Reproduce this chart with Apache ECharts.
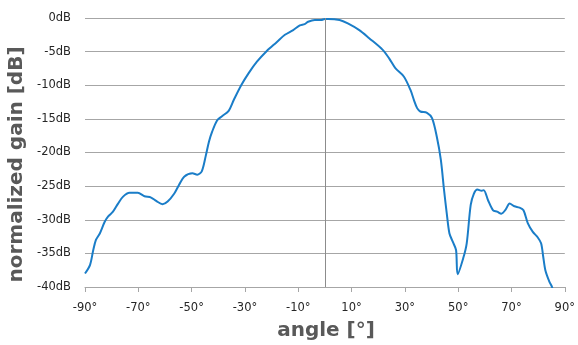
<!DOCTYPE html>
<html>
<head>
<meta charset="utf-8">
<script src="https://cdn.jsdelivr.net/npm/echarts@6/dist/echarts.min.js"></script>
<style>html,body{margin:0;padding:0;background:#fff;}#c{width:578px;height:345px;}</style>
</head>
<body>
<div id="c"></div>
<script>
const angles = [-90,-88.1,-86.9,-85.9,-84.4,-82.6,-81.3,-79.5,-77.6,-75.8,-73.3,-70.2,-67.7,-65.2,-63.3,-60.9,-59.0,-56.5,-54.7,-52.8,-49.7,-47.9,-46.2,-44.7,-43.5,-42.3,-40.4,-38.6,-36.1,-34.2,-31.4,-28.6,-25.5,-21.8,-18.1,-15.0,-11.9,-9.4,-7.6,-6.3,-3.8,-1.4,0,1.1,5.5,8.6,12.9,16.6,21.6,24.1,26.5,29.6,32.1,33.4,34.6,35.8,38.3,40.2,42.0,43.5,44.7,45.7,46.7,48.0,49.2,49.8,51.9,53.2,54.7,55.9,57.2,58.8,59.6,61.2,63.1,64.6,66.2,67.8,69.3,71.1,73.0,74.5,76.1,78.0,79.8,81.1,81.9,82.7,84.2,85.2,86.5];
const gains = [-38.0,-36.7,-34.5,-33.0,-32.0,-30.3,-29.5,-28.8,-27.6,-26.6,-26.0,-26.0,-26.5,-26.7,-27.2,-27.7,-27.3,-26.1,-24.8,-23.6,-23.1,-23.3,-22.8,-20.5,-18.4,-16.9,-15.2,-14.6,-13.8,-12.2,-10.0,-8.2,-6.5,-4.9,-3.6,-2.5,-1.8,-1.1,-0.9,-0.55,-0.3,-0.3,-0.15,-0.15,-0.3,-0.8,-1.8,-3.0,-4.7,-6.0,-7.5,-8.7,-10.7,-12.2,-13.4,-13.9,-14.1,-14.9,-17.7,-21.1,-25.6,-29.0,-32.0,-33.3,-34.5,-38.1,-35.7,-33.5,-27.8,-26.1,-25.5,-25.7,-25.6,-27.1,-28.6,-28.8,-29.1,-28.5,-27.6,-28.0,-28.2,-28.6,-30.5,-31.8,-32.6,-33.5,-35.5,-37.5,-39.2,-40.0,-42.0];
const xTicks = [-90,-70,-50,-30,-10,10,30,50,70,90];
const yTicks = [0,-5,-10,-15,-20,-25,-30,-35,-40];
const xTitle = 'angle [°]';
const yTitle = 'normalized gain [dB]';

const chart = echarts.init(document.getElementById('c'), null, {renderer:'canvas'});
const lblFont = {fontFamily:'DejaVu Sans', fontSize:11.5, color:'#262626'};
chart.setOption({
  animation:false,
  grid:{left:85, right:9, top:18, bottom:58, containLabel:false},
  xAxis:{
    type:'value', min:-90, max:90,
    axisLine:{show:true, onZero:false, lineStyle:{color:'#a6a6a6', width:1}},
    axisTick:{show:true, length:5, inside:false, customValues:xTicks, lineStyle:{color:'#a6a6a6'}},
    axisLabel:Object.assign({customValues:xTicks, margin:15, formatter:v=>v+'°'}, lblFont),
    splitLine:{show:false}
  },
  yAxis:{
    type:'value', min:-40, max:0, interval:5,
    axisLine:{show:false}, axisTick:{show:false},
    axisLabel:Object.assign({margin:14, formatter:v=>v+'dB'}, lblFont),
    splitLine:{show:true, lineStyle:{color:'#a6a6a6', width:1}}
  },
  graphic:[
    {type:'text', x:326, y:331, style:{text:xTitle, font:'bold 20px "DejaVu Sans"', fill:'#595959', textAlign:'center', textVerticalAlign:'middle'}},
    {type:'text', x:17, y:164.5, rotation:Math.PI/2, style:{text:yTitle, font:'bold 20px "DejaVu Sans"', fill:'#595959', textAlign:'center', textVerticalAlign:'middle'}}
  ],
  series:[{
    type:'line', data:angles.map((a,i)=>[a,gains[i]]), showSymbol:false, smooth:0.3, clip:true,
    lineStyle:{color:'#1a7dc8', width:2},
    markLine:{silent:true, symbol:'none', label:{show:false}, lineStyle:{color:'#8c8c8c', type:'solid', width:1}, data:[{xAxis:0}]}
  }]
});
</script>
</body>
</html>
